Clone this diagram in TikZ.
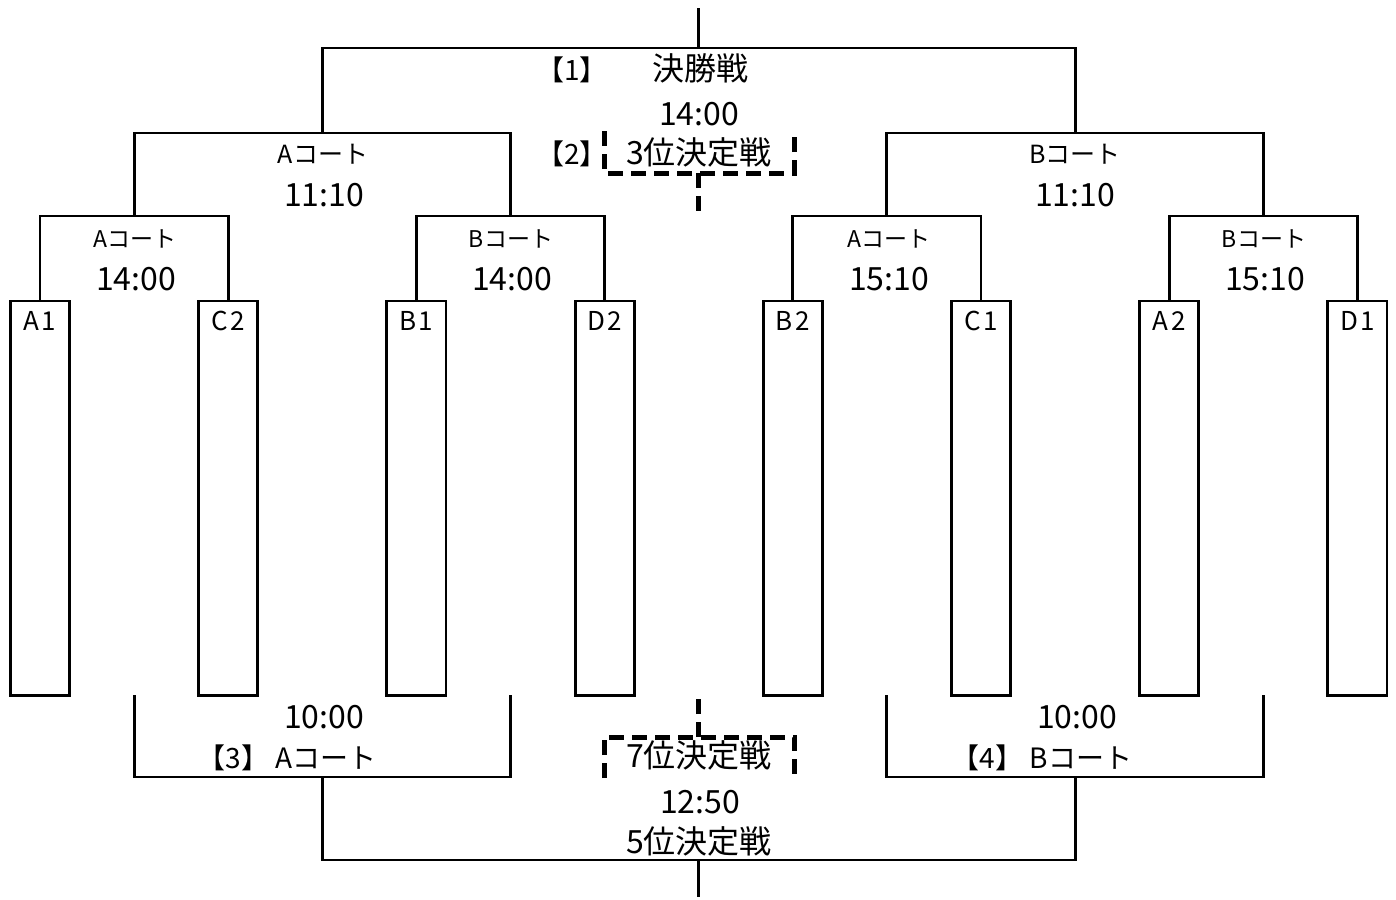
\documentclass[tikz,border=0pt]{standalone}
\usepackage{fontspec}
\setmainfont{Noto Sans CJK JP}
\begin{document}
\begin{tikzpicture}[x=1pt,y=-1pt,
  line/.style={line width=2.9pt},
  dline/.style={line width=5pt, dash pattern=on 15pt off 8pt},
  player/.style={draw, line width=2.9pt, minimum width=59.1pt, minimum height=394.1pt, anchor=north, inner sep=0pt},
  plabel/.style={anchor=base, font=\fontsize{26}{26}\selectfont, inner sep=0pt},
  big/.style={anchor=base, font=\fontsize{32}{32}\selectfont, inner sep=0pt},
  mid/.style={anchor=base, font=\fontsize{25}{25}\selectfont, inner sep=0pt},
  brk/.style={anchor=base, font=\fontsize{28}{28}\selectfont, inner sep=0pt},
  small/.style={anchor=base, font=\fontsize{23}{23}\selectfont, inner sep=0pt}]
\useasboundingbox (0,0) rectangle (1396,899);

% player boxes
\node[player] (A1) at (40,299.5) {};
\node[player] (C2) at (228.2,299.5) {};
\node[player] (B1) at (416.4,299.5) {};
\node[player] (D2) at (604.6,299.5) {};
\node[player] (B2) at (792.8,299.5) {};
\node[player] (C1) at (981,299.5) {};
\node[player] (A2) at (1169.2,299.5) {};
\node[player] (D1) at (1357.4,299.5) {};

\node[plabel] (lA1) at (40,330) {A\kern2.5pt 1};
\node[plabel] (lC2) at (228.2,330) {C\kern2.5pt 2};
\node[plabel] (lB1) at (416.4,330) {B\kern2.5pt 1};
\node[plabel] (lD2) at (604.6,330) {D\kern2.5pt 2};
\node[plabel] (lB2) at (792.8,330) {B\kern2.5pt 2};
\node[plabel] (lC1) at (981,330) {C\kern2.5pt 1};
\node[plabel] (lA2) at (1169.2,330) {A\kern2.5pt 2};
\node[plabel] (lD1) at (1357.4,330) {D\kern2.5pt 1};

% coordinates of the upper bracket
\coordinate (q1) at (134.1,216);
\coordinate (q2) at (510.5,216);
\coordinate (q3) at (886.9,216);
\coordinate (q4) at (1263.3,216);
\coordinate (r1) at (322.3,133);
\coordinate (r2) at (1075.1,133);
\coordinate (f) at (698.7,48);
\coordinate (ftop) at (698.7,8);

\draw[line] (A1.north) |- (q1) -| (C2.north);
\draw[line] (B1.north) |- (q2) -| (D2.north);
\draw[line] (B2.north) |- (q3) -| (C1.north);
\draw[line] (A2.north) |- (q4) -| (D1.north);
\draw[line] (q1) |- (r1) -| (q2);
\draw[line] (q3) |- (r2) -| (q4);
\draw[line] (r1) |- (f) -| (r2);
\draw[line] (f) -- (ftop);

% lower bracket
\coordinate (p1) at (134.1,695);
\coordinate (p2) at (510.5,695);
\coordinate (p3) at (886.9,695);
\coordinate (p4) at (1263.3,695);
\coordinate (s1) at (322.3,777);
\coordinate (s2) at (1075.1,777);
\coordinate (g) at (698.7,860);
\coordinate (gbot) at (698.7,897);

\draw[line] (p1) |- (s1) -| (p2);
\draw[line] (p3) |- (s2) -| (p4);
\draw[line] (s1) |- (g) -| (s2);
\draw[line] (g) -- (gbot);

% dashed third place bracket
\coordinate (t3l) at (604,131);
\coordinate (t3c) at (698.7,173);
\coordinate (t3r) at (794,131);
\coordinate (t3d) at (698.7,211);
\draw[dline] (t3l) |- (t3c) -| (t3r);
\draw[dline] (t3c) -- (t3d);

% dashed seventh place bracket
\coordinate (u7l) at (604,778);
\coordinate (u7c) at (698.7,737);
\coordinate (u7r) at (794,778);
\coordinate (u7u) at (698.7,695);
\draw[dline] (u7l) |- (u7c) -| (u7r);
\draw[dline] (u7c) -- (u7u);

% texts top
\node[brk] (n1) at (572,80) {【1】};
\node[big] (final) at (700,81) {決勝戦};
\node[big] (finalt) at (699,125) {14:00};
\node[brk] (n2) at (572,164) {【2】};
\node[big] (third) at (699,164) {3位決定戦};

\node[mid] (sfA) at (323,163) {Aコート};
\node[big] (sfAt) at (324,206) {11:10};
\node[mid] (sfB) at (1075,163) {Bコート};
\node[big] (sfBt) at (1075,206) {11:10};

\node[small] (qf1) at (135,247) {Aコート};
\node[big] (qf1t) at (136,290) {14:00};
\node[small] (qf2) at (511,247) {Bコート};
\node[big] (qf2t) at (512,290) {14:00};
\node[small] (qf3) at (889,247) {Aコート};
\node[big] (qf3t) at (889,290) {15:10};
\node[small] (qf4) at (1264,247) {Bコート};
\node[big] (qf4t) at (1265,290) {15:10};

% texts bottom
\node[big] (c3t) at (324,728) {10:00};
\node[brk] (c3) at (287,768) {【3】 Aコート};
\node[big] (c4t) at (1077,728) {10:00};
\node[brk] (c4) at (1042,768) {【4】 Bコート};

\node[big] (seventh) at (699,767) {7位決定戦};
\node[big] (fiftht) at (700,813) {12:50};
\node[big] (fifth) at (699,853) {5位決定戦};
\end{tikzpicture}
\end{document}
